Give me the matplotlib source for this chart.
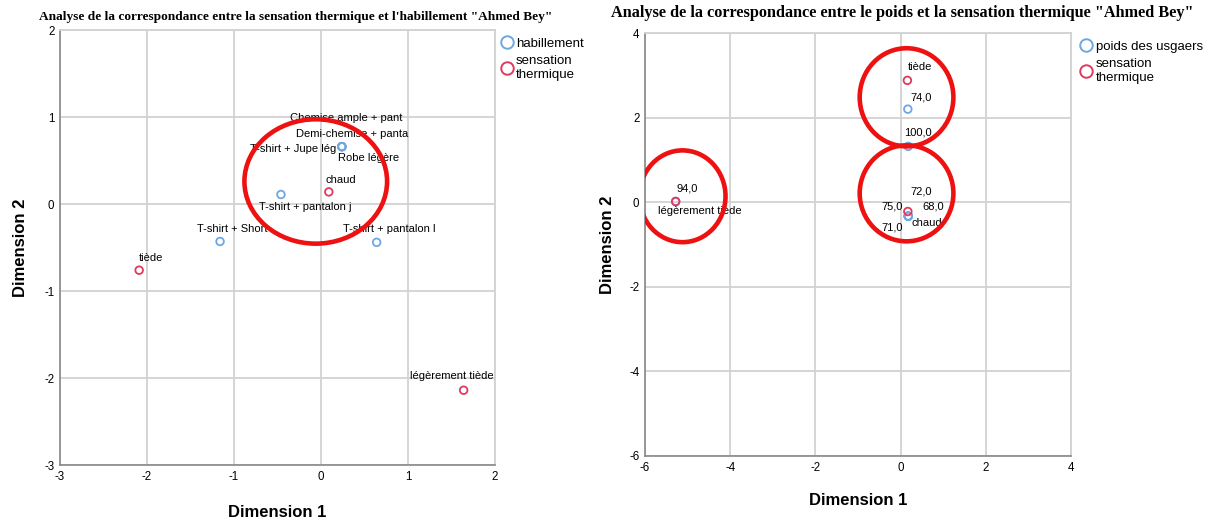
import matplotlib
matplotlib.use("Agg")
import matplotlib.pyplot as plt
from matplotlib.patches import Ellipse
from matplotlib.lines import Line2D

plt.rcParams['axes.unicode_minus'] = False
plt.rcParams['font.family'] = ['Liberation Sans', 'DejaVu Sans']

# ---------------- data: left chart ----------------
hab_labels = ["T-shirt + Short", "T-shirt + pantalon j", "Chemise ample + pant",
              "Demi-chemise + panta", "T-shirt + Jupe lég", "Robe légère",
              "T-shirt + pantalon l"]
hab_x = [-1.16, -0.46, 0.24, 0.24, 0.24, 0.24, 0.64]
hab_y = [-0.43, 0.11, 0.66, 0.66, 0.66, 0.66, -0.44]
sens1_labels = ["tiède", "chaud", "légèrement tiède"]
sens1_x = [-2.09, 0.09, 1.64]
sens1_y = [-0.76, 0.14, -2.14]

# ---------------- data: right chart ----------------
poids_labels = ["74,0", "100,0", "72,0", "75,0", "68,0", "71,0", "94,0"]
poids_x = [0.17, 0.18, 0.18, 0.18, 0.18, 0.18, -5.28]
poids_y = [2.20, 1.32, -0.33, -0.33, -0.33, -0.33, 0.01]
sens2_labels = ["tiède", "chaud", "légèrement tiède"]
sens2_x = [0.16, 0.17, -5.28]
sens2_y = [2.88, -0.22, 0.02]

BLUE = "#6ea6e6"
RED = "#e03a5e"
GRID = "#d2d2d2"

fig = plt.figure(figsize=(12.17, 5.19), dpi=100)

def style_axes(ax, xlim, ylim, xticks, yticks, xpad, ypad):
    ax.set_xlim(*xlim)
    ax.set_ylim(*ylim)
    ax.set_xticks(xticks)
    ax.set_yticks(yticks)
    ax.grid(True, color=GRID, lw=1.3)
    ax.set_axisbelow(True)
    for s in ["top", "right"]:
        ax.spines[s].set_color(GRID)
        ax.spines[s].set_linewidth(1.3)
    for s in ["left", "bottom"]:
        ax.spines[s].set_color("#888888")
        ax.spines[s].set_linewidth(1.2)
    ax.tick_params(labelsize=8.3, length=0, pad=4)
    ax.set_xlabel("Dimension 1", fontsize=12, fontweight="bold", labelpad=xpad)
    ax.set_ylabel("Dimension 2", fontsize=12, fontweight="bold", labelpad=ypad)

def pts(ax, x, y, c):
    ax.scatter(x, y, s=30, facecolors="none", edgecolors=c, linewidths=1.3, zorder=3)

def labels(ax, labs, xs, ys, offs):
    for l, x, y, o in zip(labs, xs, ys, offs):
        ax.annotate(l, (x, y), xytext=o, textcoords="offset pixels", fontsize=8,
                    ha="center", va="center", zorder=4)

h1 = [Line2D([], [], marker="o", ls="", mfc="none", mec=BLUE, ms=9, mew=1.4),
      Line2D([], [], marker="o", ls="", mfc="none", mec=RED, ms=9, mew=1.4)]

# ---------------- left ----------------
ax1 = fig.add_axes([0.0493, 0.104, 0.3574, 0.838])
style_axes(ax1, (-3, 2), (-3, 2), [-3, -2, -1, 0, 1, 2], [-3, -2, -1, 0, 1, 2], 16, 12)
pts(ax1, hab_x, hab_y, BLUE)
pts(ax1, sens1_x, sens1_y, RED)
labels(ax1, hab_labels, hab_x, hab_y,
       [(12, 12), (24, -12), (4, 29), (10, 13), (-49, -2), (27, -11), (13, 13)])
labels(ax1, sens1_labels, sens1_x, sens1_y, [(12, 12), (12, 12), (-12, 14)])
ax1.add_patch(Ellipse((-0.06, 0.26), 1.64, 1.43, fill=False, ec="#ee1111", lw=3.3, zorder=5))

ax1.legend(h1, ["habillement", "sensation\nthermique"], loc="upper left",
           bbox_to_anchor=(0.997, 0.995), frameon=False, fontsize=9.5,
           handletextpad=0.1, borderaxespad=0, labelspacing=0.4, handlelength=1.2)
fig.text(0.243, 0.967, "Analyse de la correspondance entre la sensation thermique et l'habillement \"Ahmed Bey\"",
         ha="center", va="center", fontsize=9.6, fontweight="bold", family="Liberation Serif")

# ---------------- right ----------------
ax2 = fig.add_axes([0.530, 0.1214, 0.350, 0.815])
style_axes(ax2, (-6, 4), (-6, 4), [-6, -4, -2, 0, 2, 4], [-6, -4, -2, 0, 2, 4], 14, 10)
pts(ax2, poids_x, poids_y, BLUE)
pts(ax2, sens2_x, sens2_y, RED)
labels(ax2, poids_labels, poids_x, poids_y,
       [(13, 12), (10, 14), (13, 25), (-16, 10), (25, 10), (-16, -11), (12, 13)])
labels(ax2, sens2_labels, sens2_x, sens2_y, [(13, 13), (19, -11), (24, -10)])
for cx, cy, w, h in [(0.14, 2.48, 2.2, 2.32), (0.14, 0.21, 2.2, 2.27), (-5.12, 0.14, 2.02, 2.17)]:
    ax2.add_patch(Ellipse((cx, cy), w, h, fill=False, ec="#ee1111", lw=3.3, zorder=5))

ax2.legend(h1, ["poids des usgaers", "sensation\nthermique"], loc="upper left",
           bbox_to_anchor=(1.005, 0.995), frameon=False, fontsize=9.5,
           handletextpad=0.1, borderaxespad=0, labelspacing=0.4, handlelength=1.2)
fig.text(0.741, 0.975, "Analyse de la correspondance entre le poids et la sensation thermique \"Ahmed Bey\"",
         ha="center", va="center", fontsize=11.7, fontweight="bold", family="Liberation Serif")

fig.savefig("out.png", dpi=100)
